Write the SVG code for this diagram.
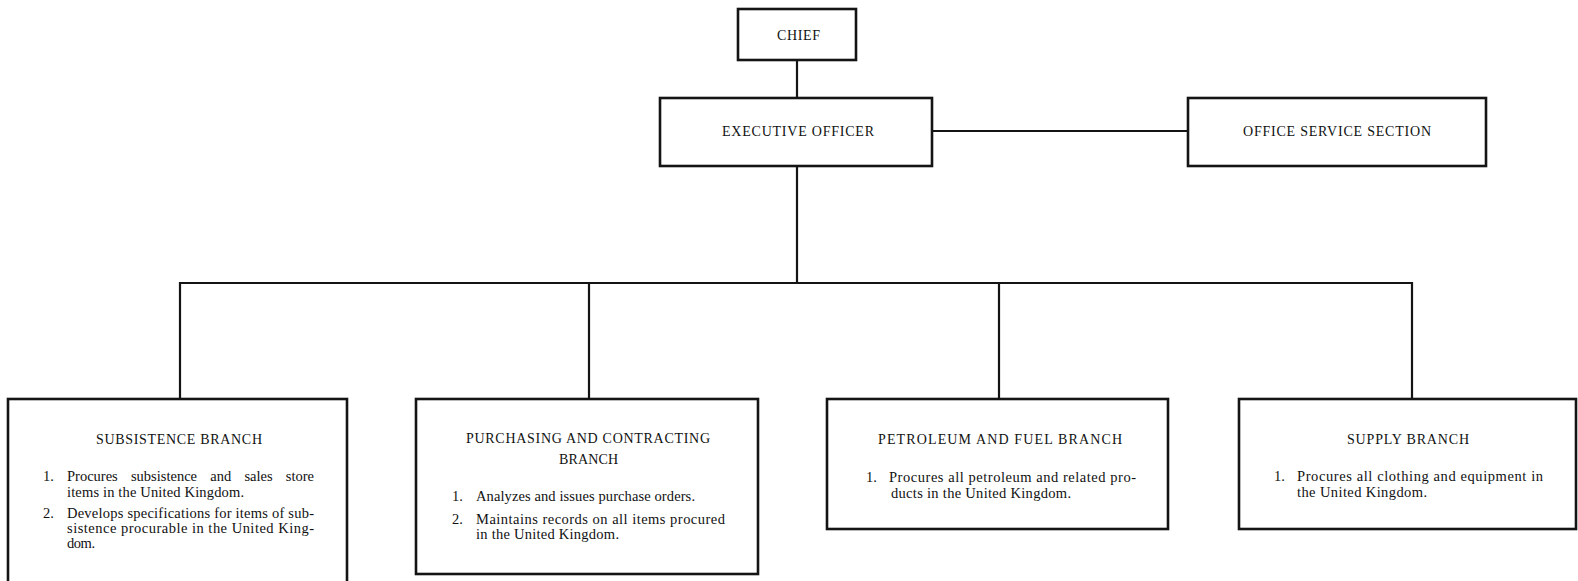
<svg xmlns="http://www.w3.org/2000/svg" width="1578" height="581" viewBox="0 0 1578 581">
  <style>
    .box { fill: #ffffff; stroke: #141414; stroke-width: 2.6; }
    .link { fill: none; stroke: #141414; stroke-width: 2.2; }
    text { font-family: "Liberation Serif", "DejaVu Serif", serif; fill: #111111; }
    .title { font-size: 14px; }
    .body { font-size: 14.5px; }
  </style>
  <rect width="1578" height="581" fill="#ffffff"/>

  <g id="connectors">
    <line class="link" x1="797" y1="60" x2="797" y2="98"/>
    <line class="link" x1="932" y1="131" x2="1188" y2="131"/>
    <line class="link" x1="797" y1="166" x2="797" y2="283"/>
    <polyline class="link" points="180,399 180,283 1412,283 1412,399"/>
    <line class="link" x1="589" y1="283" x2="589" y2="399"/>
    <line class="link" x1="999" y1="283" x2="999" y2="399"/>
  </g>

  <g id="chief">
    <rect class="box" x="738" y="9" width="118" height="51"/>
    <text class="title" x="777" y="39.5" textLength="43" lengthAdjust="spacing">CHIEF</text>
  </g>

  <g id="executive-officer">
    <rect class="box" x="660" y="98" width="272" height="68"/>
    <text class="title" x="722" y="135.5" textLength="152" lengthAdjust="spacing">EXECUTIVE OFFICER</text>
  </g>

  <g id="office-service-section">
    <rect class="box" x="1188" y="98" width="298" height="68"/>
    <text class="title" x="1243" y="135.5" textLength="188" lengthAdjust="spacing">OFFICE SERVICE SECTION</text>
  </g>

  <g id="subsistence-branch">
    <rect class="box" x="8" y="399" width="339" height="190"/>
    <text class="title" x="96" y="443.5" textLength="166" lengthAdjust="spacing">SUBSISTENCE BRANCH</text>
    <text class="body" x="43" y="480.5">1.</text>
    <text class="body" x="67" y="480.5" word-spacing="9.6">Procures subsistence and sales store</text>
    <text class="body" x="67" y="496.5" textLength="177" lengthAdjust="spacing">items in the United Kingdom.</text>
    <text class="body" x="43" y="517.5">2.</text>
    <text class="body" x="67" y="517.5" textLength="247" lengthAdjust="spacing">Develops specifications for items of sub-</text>
    <text class="body" x="67" y="532.5" textLength="247" lengthAdjust="spacing">sistence procurable in the United King-</text>
    <text class="body" x="67" y="547.5" textLength="28" lengthAdjust="spacing">dom.</text>
  </g>

  <g id="purchasing-and-contracting-branch">
    <rect class="box" x="416" y="399" width="342" height="175"/>
    <text class="title" x="466" y="442.5" textLength="244" lengthAdjust="spacing">PURCHASING AND CONTRACTING</text>
    <text class="title" x="559" y="463.5" textLength="59" lengthAdjust="spacing">BRANCH</text>
    <text class="body" x="452" y="500.5">1.</text>
    <text class="body" x="476" y="500.5" textLength="219" lengthAdjust="spacing">Analyzes and issues purchase orders.</text>
    <text class="body" x="452" y="523.5">2.</text>
    <text class="body" x="476" y="523.5" textLength="249" lengthAdjust="spacing">Maintains records on all items procured</text>
    <text class="body" x="476" y="538.5" textLength="143" lengthAdjust="spacing">in the United Kingdom.</text>
  </g>

  <g id="petroleum-and-fuel-branch">
    <rect class="box" x="827" y="399" width="341" height="130"/>
    <text class="title" x="878" y="443.5" textLength="244" lengthAdjust="spacing">PETROLEUM AND FUEL BRANCH</text>
    <text class="body" x="866" y="481.5">1.</text>
    <text class="body" x="889" y="481.5" textLength="247" lengthAdjust="spacing">Procures all petroleum and related pro-</text>
    <text class="body" x="891" y="497.5" textLength="180" lengthAdjust="spacing">ducts in the United Kingdom.</text>
  </g>

  <g id="supply-branch">
    <rect class="box" x="1239" y="399" width="337" height="130"/>
    <text class="title" x="1347" y="443.5" textLength="122" lengthAdjust="spacing">SUPPLY BRANCH</text>
    <text class="body" x="1274" y="480.5">1.</text>
    <text class="body" x="1297" y="480.5" textLength="246" lengthAdjust="spacing">Procures all clothing and equipment in</text>
    <text class="body" x="1297" y="496.5" textLength="130" lengthAdjust="spacing">the United Kingdom.</text>
  </g>
</svg>
